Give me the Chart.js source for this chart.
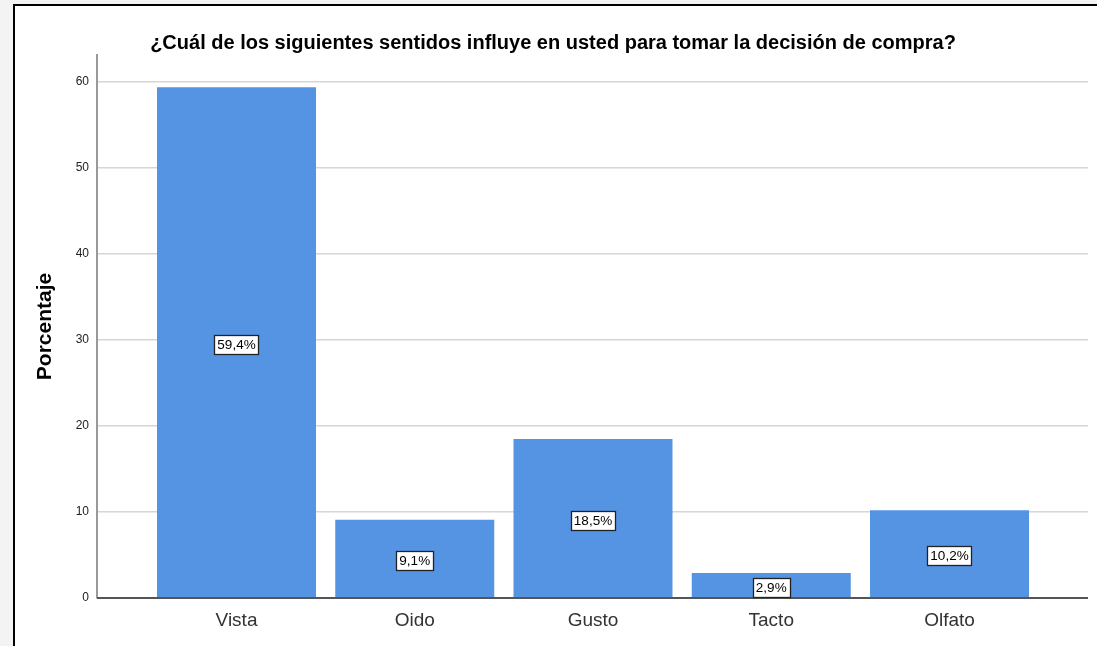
<!DOCTYPE html>
<html>
<head>
    <meta charset="utf-8">
    <title>Sentidos - decisión de compra</title>
    <script src="https://cdn.jsdelivr.net/npm/chart.js"></script>
    <style>
        html, body { margin: 0; padding: 0; background: #f3f3f3; overflow: hidden; }
        .marco {
            position: absolute; left: 13px; top: 4px; width: 1090px; height: 700px;
            background: #fff; border-left: 2px solid #000; border-top: 2px solid #000;
        }
        #grafico { position: absolute; left: 0; top: 0; }
    </style>
</head>
<body>
    <div class="marco"></div>
    <canvas id="grafico" width="1097" height="646"></canvas>

<script>
    // datos del gráfico
    const categorias = ['Vista', 'Oido', 'Gusto', 'Tacto', 'Olfato'];
    const porcentajes = [59.4, 9.1, 18.5, 2.9, 10.2];
    const ticksY = [0, 10, 20, 30, 40, 50, 60];

    const AZUL = '#5594e3';
    const FUENTE = '"Liberation Sans", Arial, sans-serif';

    // etiquetas con recuadro blanco en el centro de cada barra
    const etiquetasBarras = {
        id: 'etiquetasBarras',
        afterDatasetsDraw(chart) {
            const ctx = chart.ctx;
            const meta = chart.getDatasetMeta(0);
            ctx.save();
            ctx.font = '13.5px ' + FUENTE;
            ctx.textAlign = 'center';
            ctx.textBaseline = 'middle';
            meta.data.forEach((bar, i) => {
                const txt = porcentajes[i].toFixed(1).replace('.', ',') + '%';
                const w = Math.round(ctx.measureText(txt).width + 6);
                const h = 19;
                const cy = (bar.y + bar.base) / 2 + 2;
                const x0 = Math.round(bar.x - w / 2) + 0.5;
                const y0 = Math.round(cy - h / 2) + 0.5;
                ctx.fillStyle = '#fff';
                ctx.fillRect(x0, y0, w, h);
                ctx.strokeStyle = '#222';
                ctx.lineWidth = 1.3;
                ctx.strokeRect(x0, y0, w, h);
                ctx.fillStyle = '#000';
                ctx.fillText(txt, bar.x, cy + 1);
            });
            ctx.restore();
        }
    };

    // línea base del eje X más oscura
    const lineaBase = {
        id: 'lineaBase',
        afterDatasetsDraw(chart) {
            const { ctx, chartArea, scales } = chart;
            const y = scales.y.getPixelForValue(0);
            ctx.save();
            ctx.strokeStyle = '#555';
            ctx.lineWidth = 2;
            ctx.beginPath();
            ctx.moveTo(chartArea.left, y);
            ctx.lineTo(chartArea.right, y);
            ctx.stroke();
            ctx.restore();
        }
    };

    new Chart(document.getElementById('grafico'), {
        type: 'bar',
        data: {
            datasets: [{
                data: porcentajes.map((v, i) => ({ x: i, y: v })),
                backgroundColor: AZUL,
                borderWidth: 0,
                categoryPercentage: 1,
                barPercentage: 0.892
            }]
        },
        options: {
            responsive: false,
            animation: false,
            layout: { padding: { left: 18, right: 9, top: 0, bottom: 0 } },
            plugins: {
                legend: { display: false },
                tooltip: { enabled: false },
                title: {
                    display: true,
                    text: '¿Cuál de los siguientes sentidos influye en usted para tomar la decisión de compra?',
                    color: '#000',
                    font: { family: FUENTE, size: 20, weight: 'bold' },
                    padding: { top: 31, bottom: 0 }
                }
            },
            scales: {
                x: {
                    type: 'linear',
                    offset: false,
                    min: -0.7826,
                    max: 4.777,
                    grid: { display: false, drawTicks: false },
                    border: { display: false },
                    afterBuildTicks(scale) {
                        scale.ticks = categorias.map((c, i) => ({ value: i }));
                    },
                    afterFit(scale) { scale.height = 48; },
                    ticks: {
                        includeBounds: false,
                        padding: 11,
                        color: '#333',
                        font: { family: FUENTE, size: 19 },
                        callback: v => categorias[v]
                    }
                },
                y: {
                    min: 0,
                    max: 63.14,
                    afterBuildTicks(scale) {
                        scale.ticks = ticksY.map(v => ({ value: v }));
                    },
                    afterFit(scale) { scale.width = 79; },
                    grid: { color: '#d6d6d6', lineWidth: 1.5, drawTicks: false },
                    border: { display: true, color: '#999', width: 2 },
                    ticks: {
                        includeBounds: false,
                        padding: 8,
                        color: '#222',
                        font: { family: FUENTE, size: 12 }
                    },
                    title: {
                        display: true,
                        text: 'Porcentaje',
                        color: '#000',
                        font: { family: FUENTE, size: 21, weight: 'bold' },
                        padding: { top: 15, bottom: 0 }
                    }
                }
            }
        },
        plugins: [lineaBase, etiquetasBarras]
    });
</script>
</body>
</html>
